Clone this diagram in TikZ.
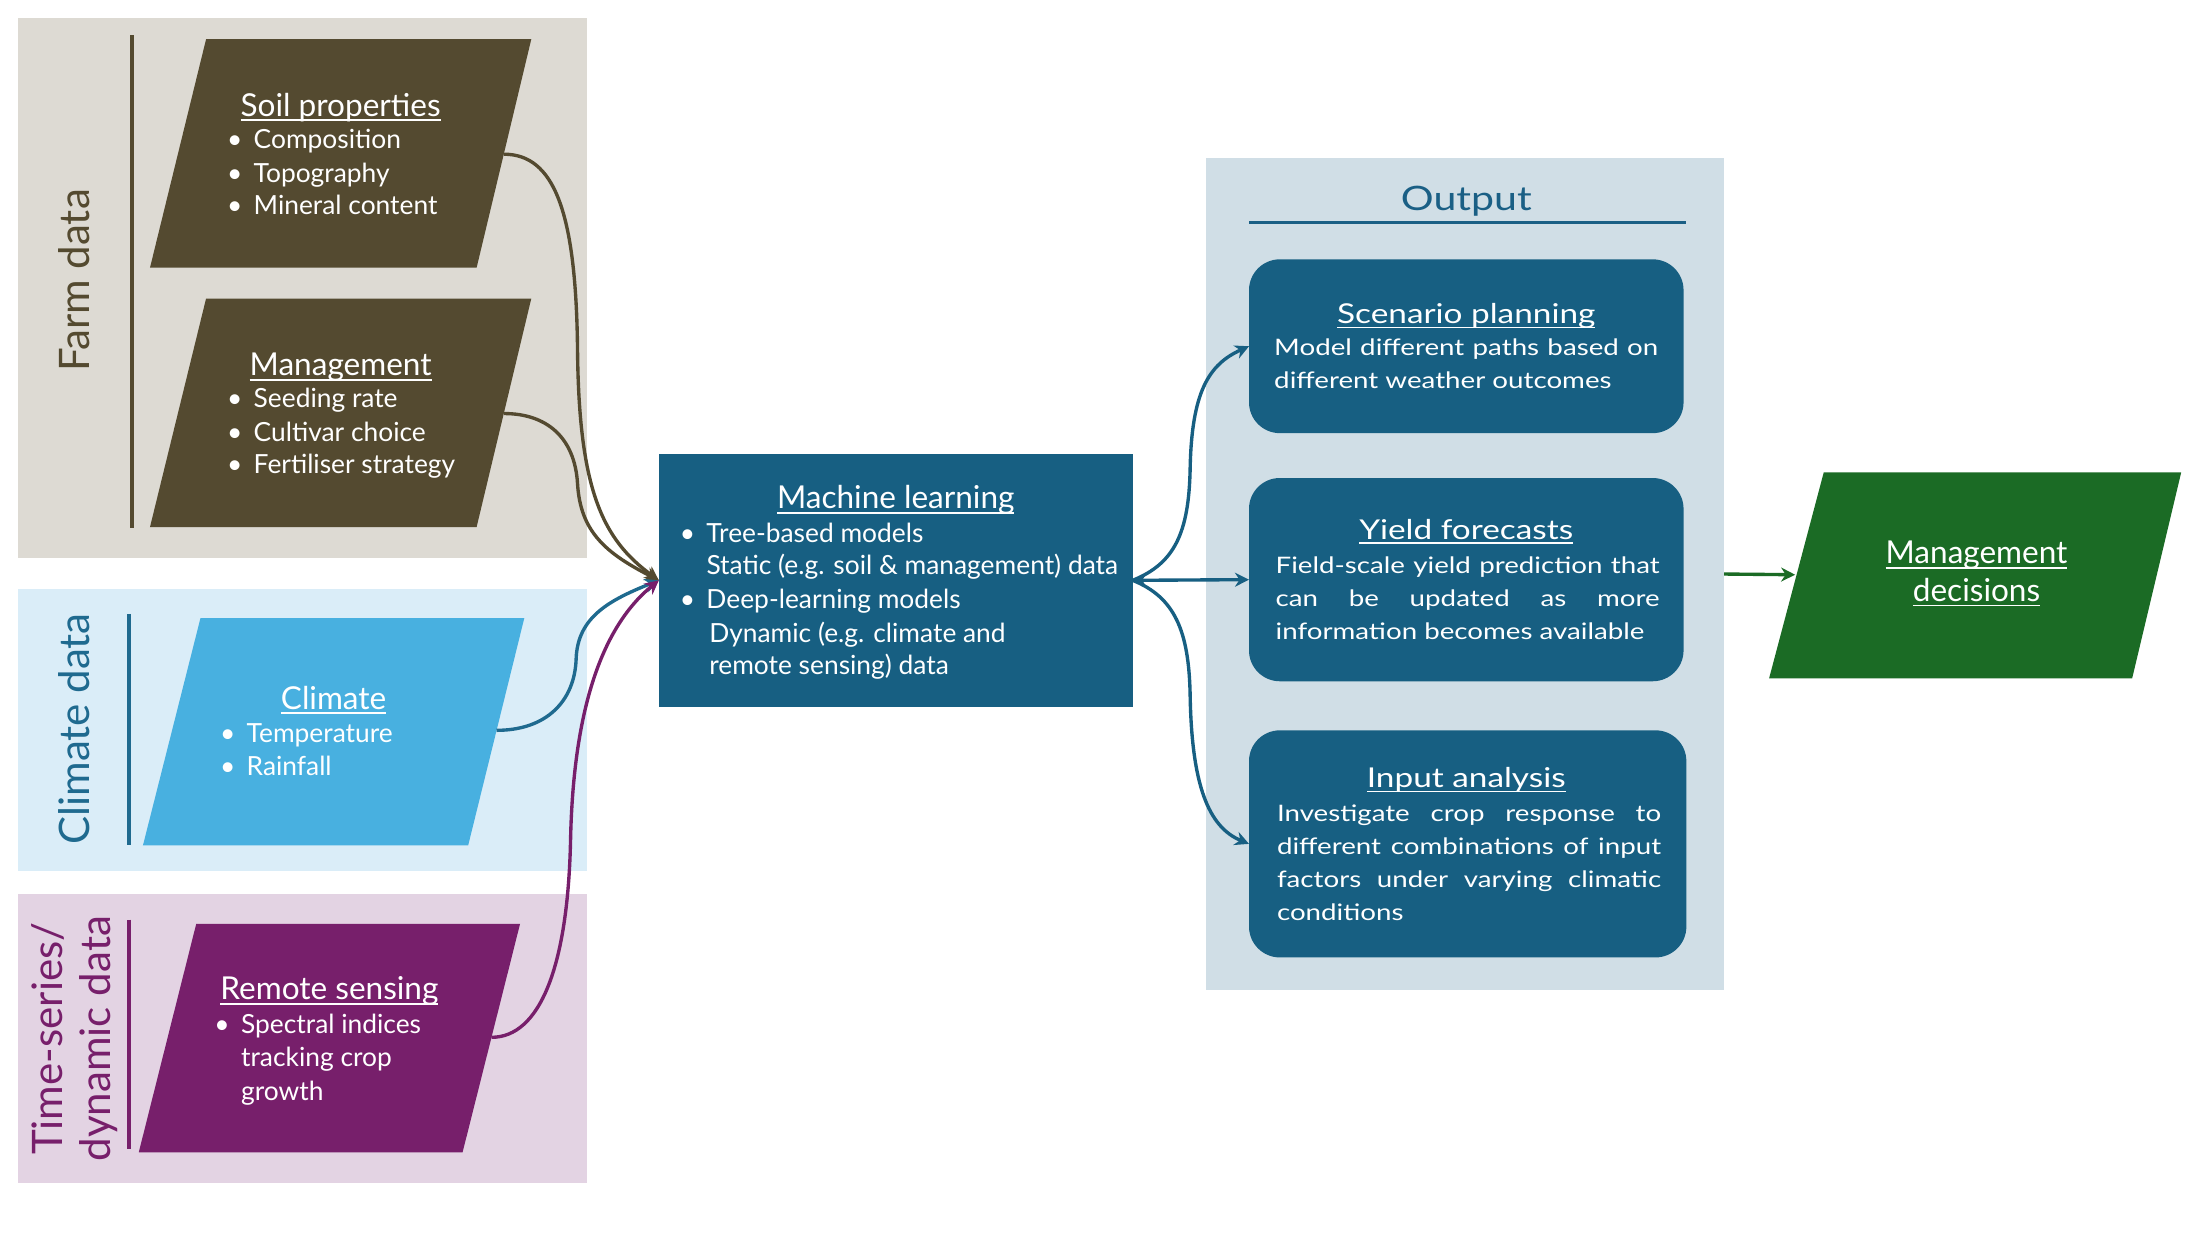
\documentclass[tikz,border=0pt]{standalone}
\usepackage{fontspec}
\setmainfont{Lato}
\newfontfamily\widefont[FakeStretch=1.22]{Lato}
\usetikzlibrary{arrows.meta}
\definecolor{farmbg}{HTML}{DDDAD3}
\definecolor{farmc}{HTML}{544A30}
\definecolor{climbg}{HTML}{DAEDF8}
\definecolor{climc}{HTML}{1F6A8F}
\definecolor{climbox}{HTML}{48B0E0}
\definecolor{timebg}{HTML}{E3D3E3}
\definecolor{timec}{HTML}{771F6B}
\definecolor{mlc}{HTML}{175F82}
\definecolor{outbg}{HTML}{D0DEE6}
\definecolor{outc}{HTML}{1A5F85}
\definecolor{greenc}{HTML}{1B6B25}
\newcommand\myul[1]{\setbox0\hbox{#1}\rlap{\rule[-0.16em]{\wd0}{0.06em}}\box0}
\newcommand\bul{\makebox[19pt][l]{\textbullet}}
\begin{document}
\begin{tikzpicture}[x=1pt,y=1pt,
  every node/.style={inner sep=0pt, outer sep=0pt},
  panel/.style={rectangle, draw=none},
  body/.style={font=\fontsize{18.8}{22}\selectfont, text=white, anchor=base west},
  ttl/.style={font=\fontsize{22.5}{26}\selectfont, text=white, anchor=base},
  side/.style={font=\fontsize{30}{34}\selectfont, rotate=90, align=center},
  otitle/.style={font=\widefont\fontsize{19.5}{23}\selectfont, text=white, anchor=base},
  obody/.style={font=\widefont\fontsize{16.2}{23.5}\selectfont, text=white, text width=274pt, align=justify, anchor=north west},
  outbox/.style={rectangle, rounded corners=22pt, fill=mlc, minimum width=310pt},
  conn/.style={line width=2.4pt, -{Stealth[length=10pt,width=10pt]}},
  biconn/.style={line width=2.4pt, {Stealth[length=10pt,width=10pt]}-{Stealth[length=10pt,width=10pt]}},
  vline/.style={line width=2.5pt},
]
\useasboundingbox[fill=white] (0,0) rectangle (1568,-890);

% ---------- left panels ----------
\node[panel, fill=farmbg, minimum width=406, minimum height=385] (farm) at (216,-205.5) {};
\node[panel, fill=climbg, minimum width=406, minimum height=201] (clim) at (216,-520.5) {};
\node[panel, fill=timebg, minimum width=406, minimum height=206] (time) at (216,-741) {};

\draw[vline, farmc] (94,-25) -- (94,-377);
\draw[vline, climc] (92,-438) -- (92,-603);
\draw[vline, timec] (92,-656) -- (92,-820);

\node[side, text=farmc] (farmlab) at (53,-200) {Farm data};
\node[side, text=climc] (climlab) at (53,-520) {Climate data};
\node[side, text=timec] (timelab) at (53,-741) {Time-series/\\dynamic data};

% soil properties
\path[fill=farmc] (107,-191) -- (147,-28) -- (379,-28) -- (340,-191) -- cycle;
\coordinate (soilR) at (359.4,-110);
\node[ttl] (soilT) at (243,-83) {\myul{Soil properties}};
\node[body] (soil1) at (162,-106) {\bul Composition};
\node[body] (soil2) at (162,-130) {\bul Topography};
\node[body] (soil3) at (162,-153) {\bul Mineral content};

% management
\path[fill=farmc] (107,-376) -- (147,-213) -- (379,-213) -- (340,-376) -- cycle;
\coordinate (mgmtR) at (359.4,-295);
\node[ttl] (mgmtT) at (243,-268) {\myul{Management}};
\node[body] (mgmt1) at (162,-291) {\bul Seeding rate};
\node[body] (mgmt2) at (162,-315) {\bul Cultivar choice};
\node[body] (mgmt3) at (162,-338) {\bul Fertiliser strategy};

% climate
\path[fill=climbox] (102,-603) -- (143,-441) -- (374,-441) -- (334,-603) -- cycle;
\coordinate (climR) at (354.2,-521);
\node[ttl] (climT) at (238,-506) {\myul{Climate}};
\node[body] (clim1) at (157,-530) {\bul Temperature};
\node[body] (clim2) at (157,-553) {\bul Rainfall};

% remote sensing
\path[fill=timec] (99,-822) -- (140,-659) -- (371,-659) -- (330,-822) -- cycle;
\coordinate (remR) at (350.6,-740);
\node[ttl] (remT) at (235,-713) {\myul{Remote sensing}};
\node[body] (rem1) at (153,-737) {\bul Spectral indices};
\node[body] (rem2) at (172,-761) {tracking crop};
\node[body] (rem3) at (172,-785) {growth};

% ---------- machine learning ----------
\node[panel, fill=mlc, minimum width=338, minimum height=180] (ml) at (639,-414) {};
\node[ttl] (mlT) at (639,-363) {\myul{Machine learning}};
\node[body] (ml1) at (485,-387) {\bul Tree-based models};
\node[body] (ml2) at (504,-410) {Static (e.g. soil \& management) data};
\node[body] (ml3) at (485,-434) {\bul Deep-learning models};
\node[body] (ml4) at (506,-458) {Dynamic (e.g. climate and};
\node[body] (ml5) at (506,-481) {remote sensing) data};

% ---------- output ----------
\node[panel, fill=outbg, minimum width=370, minimum height=593] (outp) at (1045,-409.5) {};
\node[font=\widefont\fontsize{24}{28}\selectfont, text=outc, anchor=base] (outT) at (1046,-150) {Output};
\draw[line width=2pt, outc] (891,-159) -- (1203,-159);

\node[outbox, minimum height=124] (scen) at (1046,-247) {};
\node[otitle] (scenT) at (1046,-231) {\myul{Scenario planning}};
\node[obody] (scenB) at (909,-242) {Model different paths based on\linebreak different weather outcomes};

\node[outbox, minimum height=145] (yield) at (1046,-413.5) {};
\node[otitle] (yieldT) at (1046,-385) {\myul{Yield forecasts}};
\node[obody] (yieldB) at (910,-397) {Field-scale yield prediction that\linebreak can be updated as more\linebreak information becomes available};

\node[outbox, minimum height=162, minimum width=312] (inp) at (1047,-602) {};
\node[otitle] (inpT) at (1046,-562) {\myul{Input analysis}};
\node[obody] (inpB) at (911,-574) {Investigate crop response to\linebreak different combinations of input\linebreak factors under varying climatic\linebreak conditions};

% ---------- management decisions ----------
\path[fill=greenc] (1262,-484) -- (1301,-337) -- (1556,-337) -- (1521,-484) -- cycle;
\coordinate (mdL) at (1280.6,-410);
\node[font=\fontsize{22.5}{26}\selectfont, text=white, anchor=base] (md1) at (1410,-402) {\myul{Management}};
\node[font=\fontsize{22.5}{26}\selectfont, text=white, anchor=base] (md2) at (1410,-429) {\myul{decisions}};

% ---------- connectors ----------
\draw[conn, farmc] (soilR) .. controls (395,-110) and (411,-150) .. (412,-250) .. controls (413,-350) and (430,-385) .. (ml.west);
\draw[conn, farmc] (mgmtR) .. controls (390,-295) and (410,-312) .. (412,-345) .. controls (414,-380) and (433,-395) .. (ml.west);
\draw[conn, climc] (climR) .. controls (390,-521) and (410,-500) .. (411,-470) .. controls (412,-440) and (435,-428) .. (ml.west);
\draw[conn, timec] (remR) .. controls (385,-740) and (405,-690) .. (407,-600) .. controls (409,-500) and (432,-445) .. (ml.west);

\draw[conn, mlc] (ml.east) .. controls (838,-402) and (848,-380) .. (849,-335) .. controls (850,-280) and (862,-260) .. (scen.west);
\draw[biconn, mlc] (ml.east) -- (yield.west);
\draw[conn, mlc] (ml.east) .. controls (838,-426) and (848,-450) .. (849,-495) .. controls (850,-560) and (862,-590) .. (inp.west);

\draw[conn, greenc] (outp.east) -- (mdL);
\end{tikzpicture}
\end{document}
